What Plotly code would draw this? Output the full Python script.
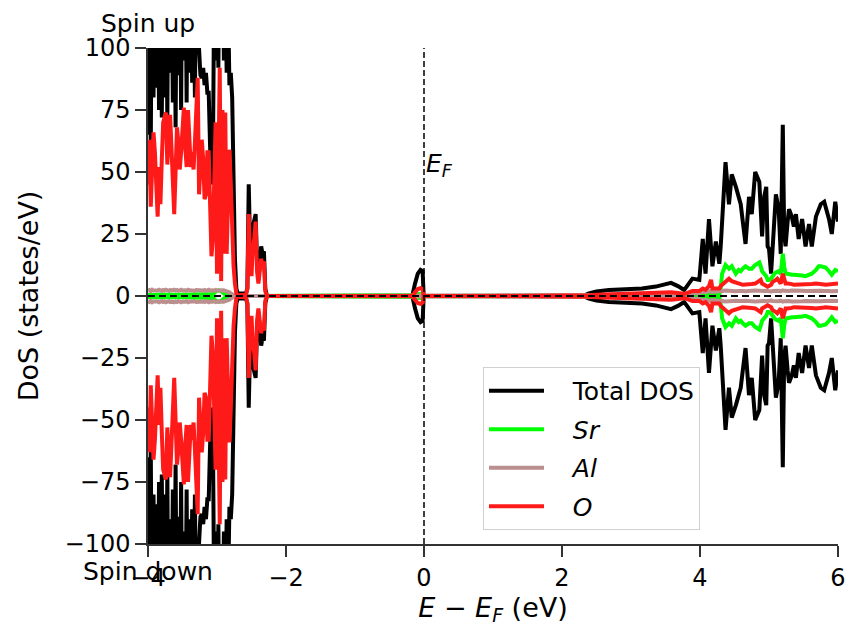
import plotly.graph_objects as go

# ---------------- data ----------------
# valence-band part (dense)
energy_vb = [
    -4.00, -3.98, -3.96, -3.94, -3.92, -3.90, -3.88, -3.86, -3.84, -3.82,
    -3.80, -3.78, -3.76, -3.74, -3.72, -3.70, -3.68, -3.66, -3.64, -3.62,
    -3.60, -3.58, -3.56, -3.54, -3.52, -3.50, -3.48, -3.46, -3.44, -3.42,
    -3.40, -3.38, -3.36, -3.34, -3.32, -3.30, -3.28, -3.26, -3.24, -3.22,
    -3.20, -3.18, -3.16, -3.14, -3.12, -3.10, -3.08, -3.06, -3.04, -3.02,
    -3.00, -2.98, -2.96, -2.94, -2.92, -2.90, -2.88, -2.86, -2.84, -2.82,
    -2.80, -2.78, -2.76, -2.74, -2.72, -2.70, -2.68, -2.66, -2.64, -2.62,
    -2.60, -2.58, -2.56, -2.54, -2.52, -2.50, -2.48, -2.46, -2.44, -2.42,
    -2.40, -2.38, -2.36, -2.34, -2.32, -2.30, -2.28, -2.26,
]
# gap, Fermi level and conduction-band part
energy_cb = [
    -1.00, -0.20, -0.17, -0.13, -0.09, -0.05, -0.02, -0.005, 0.00, 1.00,
    2.30, 2.39, 2.50, 2.68, 2.90, 3.16, 3.36, 3.45, 3.58, 3.68,
    3.77, 3.89, 3.99, 4.04, 4.08, 4.13, 4.16, 4.18, 4.23, 4.28,
    4.30, 4.32, 4.37, 4.42, 4.46, 4.52, 4.56, 4.59, 4.62, 4.66,
    4.71, 4.75, 4.80, 4.86, 4.88, 4.90, 4.93, 4.96, 4.98, 5.00,
    5.03, 5.05, 5.08, 5.10, 5.12, 5.14, 5.17, 5.20, 5.22, 5.24,
    5.27, 5.29, 5.33, 5.36, 5.39, 5.43, 5.48, 5.53, 5.58, 5.62,
    5.68, 5.72, 5.75, 5.80, 5.82, 5.87, 5.91, 5.96, 6.00,
]

# ---- spin up ----
tdos_up_vb = [
    65, 120, 60, 150, 80, 140, 84, 130, 75, 140,
    72, 150, 80, 150, 70, 160, 90, 140, 78, 140,
    68, 150, 89, 140, 75, 160, 95, 145, 78, 170,
    90, 140, 86, 130, 80, 145, 110, 95, 89, 88,
    92, 85, 90, 82, 82, 60, 45, 50, 130, 95,
    140, 92, 160, 100, 140, 95, 130, 90, 120, 85,
    90, 80, 45, 15, 3, 1, 1, 1, 1, 1,
    1, 1, 3, 45, 20, 12, 28, 30, 33, 14,
    8, 14, 20, 17, 18, 3, 0.5, 0,
]
sr_up_vb = [
    0.5, 0.4, 0.5, 0.6, 0.5, 0.4, 0.5, 0.6, 0.5, 0.4,
    0.5, 0.6, 0.5, 0.4, 0.5, 0.5, 0.6, 0.5, 0.4, 0.5,
    0.6, 0.5, 0.4, 0.5, 0.5, 0.6, 0.5, 0.4, 0.5, 0.6,
    0.5, 0.4, 0.5, 0.5, 0.6, 0.5, 0.4, 0.5, 0.5, 0.6,
    0.5, 0.4, 0.5, 0.6, 0.5, 0.5, 0.6, 0.8, 1.2, 1.8,
    2.2, 2.3, 2.2, 2.0, 1.5, 0.8, 0.6, 0.5, 0.5, 0.4,
    0.4, 0.3, 0.2, 0.1, 0, 0, 0, 0, 0, 0,
    0, 0, 0, 0, 0, 0, 0, 0, 0, 0,
    0, 0, 0, 0, 0, 0, 0, 0,
]
al_up_vb = [
    2.2, 2.4, 2.0, 2.5, 2.2, 2.1, 2.4, 2.2, 2.5, 2.3,
    2.1, 2.4, 2.2, 2.5, 2.3, 2.1, 2.4, 2.2, 2.3, 2.5,
    2.2, 2.4, 2.1, 2.3, 2.5, 2.2, 2.4, 2.3, 2.1, 2.5,
    2.3, 2.2, 2.4, 2.3, 2.1, 2.4, 2.3, 2.2, 2.5, 2.3,
    2.2, 2.4, 2.1, 2.3, 2.5, 2.2, 2.4, 2.3, 2.1, 2.4,
    2.2, 2.3, 2.1, 2.4, 2.2, 2.3, 2.1, 2.0, 1.8, 1.5,
    1.0, 0.6, 0.3, 0.1, 0, 0, 0, 0, 0, 0,
    0, 0, 0, 0, 0, 0, 0, 0, 0, 0,
    0, 0, 0, 0, 0, 0, 0, 0,
]
o_up_vb = [
    45, 63, 36, 50, 66, 58, 40, 32, 52, 37,
    55, 70, 72, 74, 53, 62, 73, 60, 45, 33,
    50, 68, 62, 51, 58, 70, 76, 60, 52, 75,
    65, 52, 58, 51, 62, 80, 88, 41, 50, 63,
    55, 39, 41, 58, 58, 30, 16, 23, 45, 70,
    9, 60, 92, 6, 75, 17, 74, 17, 40, 59,
    45, 23, 12, 5, 1, 0.3, 0.3, 0.3, 0.3, 0.3,
    0.3, 0.5, 3, 33, 15, 8, 20, 23, 30, 10,
    5, 10, 15, 12, 14, 2, 0.3, 0,
]
tdos_up_cb = [
    0, 0, 0, 5, 9, 10.5, 10, 0.5, 0, 0,
    0, 1, 1.8, 2.4, 2.8, 3.0, 3.8, 4.5, 5.3, 4.0,
    2.4, 7, 6.5, 23, 9, 31, 20, 12, 22, 13,
    20, 32, 54, 37, 49, 44, 40, 37, 30, 21,
    40, 33, 50, 46, 35, 24, 40, 44, 20, 19,
    9, 20, 35, 41, 38, 35, 17, 69, 25, 20,
    30, 35, 32, 28, 33, 23, 31, 20, 29, 20,
    32, 35, 37, 38, 36, 31, 25, 38, 30,
]
sr_up_cb = [
    0, 0, 0, 0.4, 0.8, 0.8, 0.7, 0, 0, 0,
    0, 0, 0, 0.1, 0.1, 0.2, 0.2, 0.2, 0.3, 0.2,
    0.2, 0.3, 0.3, 0.5, 0.4, 0.6, 0.5, 0.5, 0.5, 0.5,
    3, 9, 12.5, 11, 12, 9, 10.5, 10, 11, 12,
    11, 11, 12.5, 13.5, 12, 10, 9, 8, 6.5, 6.5,
    7, 8, 9, 9.5, 10, 10, 9, 17, 12, 9,
    9, 8.8, 8.6, 8.6, 8.6, 8.6, 8.3, 8, 8.5, 9,
    10.5, 12, 12, 11.5, 11.5, 10, 8.6, 10.5, 10,
]
al_up_cb = [
    0, 0, 0, 0.2, 0.3, 0.3, 0.3, 0, 0, 0,
    0, 0.1, 0.2, 0.3, 0.4, 0.5, 0.6, 0.7, 0.8, 0.7,
    0.6, 1.0, 1.2, 1.8, 1.5, 2.0, 1.8, 1.6, 1.8, 1.7,
    1.8, 2.0, 2.2, 2.0, 2.1, 1.9, 2.0, 2.2, 2.0, 1.9,
    2.1, 2.0, 2.2, 2.1, 2.0, 1.9, 2.0, 2.1, 1.9, 2.0,
    1.8, 2.0, 2.1, 2.2, 2.0, 2.1, 1.9, 2.3, 2.1, 2.0,
    2.1, 2.0, 2.2, 2.1, 2.0, 1.9, 2.1, 2.0, 2.1, 1.9,
    2.0, 2.2, 2.1, 2.0, 2.1, 2.0, 1.9, 2.1, 2.0,
]
o_up_cb = [
    0, 0, 0, 1.5, 2.8, 3.2, 2.8, 0.2, 0, 0,
    0, 0.3, 0.5, 0.7, 0.8, 1.0, 1.2, 1.3, 1.5, 1.2,
    0.8, 2.0, 2.0, 3.0, 2.5, 4.0, 6.5, 3.0, 3.0, 3.0,
    4.0, 4.5, 5.5, 7, 6, 5.6, 5, 4.8, 4.5, 4.5,
    4.5, 4.8, 5, 6, 6.5, 5, 4.5, 3.7, 3.7, 4,
    4.5, 5.6, 6, 6.5, 7, 6, 5, 9, 7, 5,
    5, 5, 4.8, 4.5, 4.5, 4.5, 4.6, 4.5, 4.7, 4.8,
    5, 5, 4.8, 4.6, 4.5, 4.7, 4.8, 5, 5,
]

# ---- spin down (magnitudes; drawn below zero) ----
tdos_dn_vb = [
    65, 120, 60, 150, 80, 140, 84, 130, 75, 140,
    72, 150, 80, 150, 70, 160, 90, 140, 78, 140,
    68, 150, 89, 140, 75, 160, 95, 145, 78, 170,
    90, 140, 86, 130, 80, 145, 110, 95, 89, 88,
    92, 85, 90, 82, 82, 60, 45, 50, 130, 95,
    140, 92, 160, 100, 140, 95, 130, 90, 120, 85,
    90, 80, 45, 15, 3, 1, 1, 1, 1, 1,
    1, 1, 3, 45, 20, 12, 28, 30, 33, 14,
    8, 14, 20, 17, 18, 3, 0.5, 0,
]
sr_dn_vb = [
    0.5, 0.4, 0.5, 0.6, 0.5, 0.4, 0.5, 0.6, 0.5, 0.4,
    0.5, 0.6, 0.5, 0.4, 0.5, 0.5, 0.6, 0.5, 0.4, 0.5,
    0.6, 0.5, 0.4, 0.5, 0.5, 0.6, 0.5, 0.4, 0.5, 0.6,
    0.5, 0.4, 0.5, 0.5, 0.6, 0.5, 0.4, 0.5, 0.5, 0.6,
    0.5, 0.4, 0.5, 0.6, 0.5, 0.5, 0.6, 0.8, 1.2, 1.8,
    2.2, 2.3, 2.2, 2.0, 1.5, 0.8, 0.6, 0.5, 0.5, 0.4,
    0.4, 0.3, 0.2, 0.1, 0, 0, 0, 0, 0, 0,
    0, 0, 0, 0, 0, 0, 0, 0, 0, 0,
    0, 0, 0, 0, 0, 0, 0, 0,
]
al_dn_vb = [
    2.2, 2.4, 2.0, 2.5, 2.2, 2.1, 2.4, 2.2, 2.5, 2.3,
    2.1, 2.4, 2.2, 2.5, 2.3, 2.1, 2.4, 2.2, 2.3, 2.5,
    2.2, 2.4, 2.1, 2.3, 2.5, 2.2, 2.4, 2.3, 2.1, 2.5,
    2.3, 2.2, 2.4, 2.3, 2.1, 2.4, 2.3, 2.2, 2.5, 2.3,
    2.2, 2.4, 2.1, 2.3, 2.5, 2.2, 2.4, 2.3, 2.1, 2.4,
    2.2, 2.3, 2.1, 2.4, 2.2, 2.3, 2.1, 2.0, 1.8, 1.5,
    1.0, 0.6, 0.3, 0.1, 0, 0, 0, 0, 0, 0,
    0, 0, 0, 0, 0, 0, 0, 0, 0, 0,
    0, 0, 0, 0, 0, 0, 0, 0,
]
o_dn_vb = [
    45, 63, 36, 50, 66, 58, 40, 32, 52, 37,
    55, 70, 72, 74, 53, 62, 73, 60, 45, 33,
    50, 68, 62, 51, 58, 70, 76, 60, 52, 75,
    65, 52, 58, 51, 62, 80, 88, 41, 50, 63,
    55, 39, 41, 58, 58, 30, 16, 23, 45, 70,
    9, 60, 92, 6, 75, 17, 74, 17, 40, 59,
    45, 23, 12, 5, 1, 0.3, 0.3, 0.3, 0.3, 0.3,
    0.3, 0.5, 3, 33, 15, 8, 20, 23, 30, 10,
    5, 10, 15, 12, 14, 2, 0.3, 0,
]
tdos_dn_cb = [
    0, 0, 0, 5, 9, 10.5, 10, 0.5, 0, 0,
    0, 1, 1.8, 2.4, 2.8, 3.0, 3.8, 4.5, 5.3, 4.0,
    2.4, 7, 6.5, 23, 9, 31, 20, 12, 22, 13,
    20, 32, 54, 37, 49, 44, 40, 37, 30, 21,
    40, 33, 50, 46, 35, 24, 40, 44, 20, 19,
    9, 20, 35, 41, 38, 35, 17, 69, 25, 20,
    30, 35, 32, 28, 33, 23, 31, 20, 29, 20,
    32, 35, 37, 38, 36, 31, 25, 38, 30,
]
sr_dn_cb = [
    0, 0, 0, 0.4, 0.8, 0.8, 0.7, 0, 0, 0,
    0, 0, 0, 0.1, 0.1, 0.2, 0.2, 0.2, 0.3, 0.2,
    0.2, 0.3, 0.3, 0.5, 0.4, 0.6, 0.5, 0.5, 0.5, 0.5,
    3, 9, 12.5, 11, 12, 9, 10.5, 10, 11, 12,
    11, 11, 12.5, 13.5, 12, 10, 9, 8, 6.5, 6.5,
    7, 8, 9, 9.5, 10, 10, 9, 17, 12, 9,
    9, 8.8, 8.6, 8.6, 8.6, 8.6, 8.3, 8, 8.5, 9,
    10.5, 12, 12, 11.5, 11.5, 10, 8.6, 10.5, 10,
]
al_dn_cb = [
    0, 0, 0, 0.2, 0.3, 0.3, 0.3, 0, 0, 0,
    0, 0.1, 0.2, 0.3, 0.4, 0.5, 0.6, 0.7, 0.8, 0.7,
    0.6, 1.0, 1.2, 1.8, 1.5, 2.0, 1.8, 1.6, 1.8, 1.7,
    1.8, 2.0, 2.2, 2.0, 2.1, 1.9, 2.0, 2.2, 2.0, 1.9,
    2.1, 2.0, 2.2, 2.1, 2.0, 1.9, 2.0, 2.1, 1.9, 2.0,
    1.8, 2.0, 2.1, 2.2, 2.0, 2.1, 1.9, 2.3, 2.1, 2.0,
    2.1, 2.0, 2.2, 2.1, 2.0, 1.9, 2.1, 2.0, 2.1, 1.9,
    2.0, 2.2, 2.1, 2.0, 2.1, 2.0, 1.9, 2.1, 2.0,
]
o_dn_cb = [
    0, 0, 0, 1.5, 2.8, 3.2, 2.8, 0.2, 0, 0,
    0, 0.3, 0.5, 0.7, 0.8, 1.0, 1.2, 1.3, 1.5, 1.2,
    0.8, 2.0, 2.0, 3.0, 2.5, 4.0, 6.5, 3.0, 3.0, 3.0,
    4.0, 4.5, 5.5, 7, 6, 5.6, 5, 4.8, 4.5, 4.5,
    4.5, 4.8, 5, 6, 6.5, 5, 4.5, 3.7, 3.7, 4,
    4.5, 5.6, 6, 6.5, 7, 6, 5, 9, 7, 5,
    5, 5, 4.8, 4.5, 4.5, 4.5, 4.6, 4.5, 4.7, 4.8,
    5, 5, 4.8, 4.6, 4.5, 4.7, 4.8, 5, 5,
]

series_names = ["Total DOS", "<i>Sr</i>", "<i>Al</i>", "<i>O</i>"]
series_colors = ["#000000", "#00ff00", "#bc8f8f", "#ff1a1a"]

x_tickvals = [-4, -2, 0, 2, 4, 6]
x_ticktext = ["−4", "−2", "0", "2", "4", "6"]
y_tickvals = [100, 75, 50, 25, 0, -25, -50, -75, -100]
y_ticktext = ["100", "75", "50", "25", "0", "−25", "−50", "−75", "−100"]

FONT = "DejaVu Sans"
NB = "\u00a0"

# ---------------- figure ----------------
energy = energy_vb + energy_cb
ups = [tdos_up_vb + tdos_up_cb, sr_up_vb + sr_up_cb, al_up_vb + al_up_cb, o_up_vb + o_up_cb]
dns = [tdos_dn_vb + tdos_dn_cb, sr_dn_vb + sr_dn_cb, al_dn_vb + al_dn_cb, o_dn_vb + o_dn_cb]

fig = go.Figure()
for i, (name, color) in enumerate(zip(series_names, series_colors)):
    fig.add_trace(go.Scatter(
        x=energy, y=ups[i], mode="lines", name=NB * 3 + name,
        line=dict(color=color, width=4), legendgroup=f"g{i}", showlegend=True,
    ))
    fig.add_trace(go.Scatter(
        x=energy, y=[-v for v in dns[i]], mode="lines", name=NB * 3 + name,
        line=dict(color=color, width=4), legendgroup=f"g{i}", showlegend=False,
    ))

# Fermi level and zero line
fig.add_vline(x=0, line=dict(color="black", width=1.5, dash="6px,3px"), layer="above")
fig.add_hline(y=0, line=dict(color="black", width=2, dash="7px,4px"), layer="above")

fig.add_annotation(x=0, y=53, xref="x", yref="y", text="<i>E</i><sub><i>F</i></sub>",
                   showarrow=False, xanchor="left", yanchor="middle",
                   font=dict(family=FONT, size=25, color="black"), xshift=0)
fig.add_annotation(x=0, y=1.0, xref="paper", yref="paper", text="Spin up",
                   showarrow=False, xanchor="center", yanchor="bottom", yshift=8,
                   font=dict(family=FONT, size=25, color="black"))
fig.add_annotation(x=0, y=0.0, xref="paper", yref="paper", text="Spin down",
                   showarrow=False, xanchor="center", yanchor="top", yshift=-11,
                   font=dict(family=FONT, size=25, color="black"))

axis_common = dict(
    showline=True, linecolor="#333333", linewidth=1.5,
    ticks="outside", ticklen=11, tickwidth=1.5, tickcolor="#333333",
    showgrid=False, zeroline=False, mirror=False, automargin=False,
    tickfont=dict(family=FONT, size=24, color="black"),
)

fig.update_layout(
    width=847, height=630,
    margin=dict(l=148, r=9, t=48, b=86),
    plot_bgcolor="white", paper_bgcolor="white",
    font=dict(family=FONT, size=24, color="black"),
    xaxis=dict(range=[-4, 6], tickvals=x_tickvals, ticktext=x_ticktext,
               title=dict(text="<i>E</i> − <i>E</i><sub><i>F</i></sub> (eV)",
                          font=dict(family=FONT, size=27), standoff=2),
               **axis_common),
    yaxis=dict(range=[-100, 100], tickvals=y_tickvals, ticktext=y_ticktext,
               title=dict(text="DoS (states/eV)", font=dict(family=FONT, size=27),
                          standoff=18),
               **axis_common),
    legend=dict(x=0.4855, y=0.357, xanchor="left", yanchor="top",
                bgcolor="rgba(255,255,255,0.85)", bordercolor="#d0d0d0", borderwidth=1,
                font=dict(family=FONT, size=25, color="black"),
                tracegroupgap=3, itemwidth=55),
    showlegend=True,
)

fig.write_html("out.html")
